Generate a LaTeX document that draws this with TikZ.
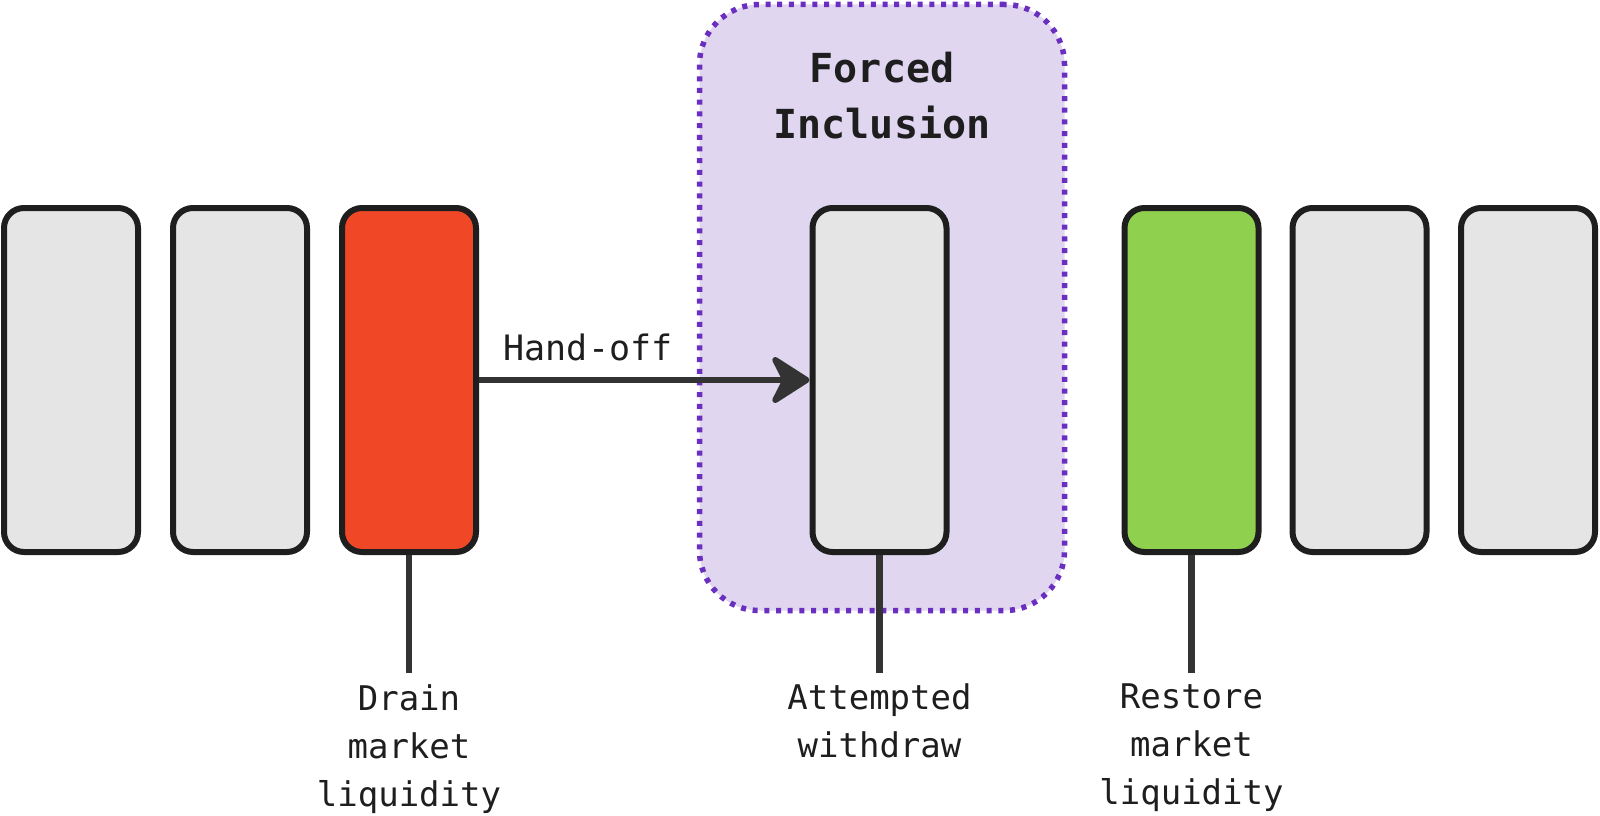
\documentclass[tikz,border=0pt]{standalone}
\usepackage{fontspec}
\setmonofont{DejaVu Sans Mono}
\usetikzlibrary{arrows.meta}
\definecolor{boxgray}{HTML}{E5E5E5}
\definecolor{boxline}{HTML}{1E1E1E}
\definecolor{redfill}{HTML}{F04826}
\definecolor{greenfill}{HTML}{8FD14F}
\definecolor{grpfill}{HTML}{E0D6F0}
\definecolor{grpline}{HTML}{6A2FC0}
\definecolor{conn}{HTML}{333333}
\definecolor{txt}{HTML}{1E1E1E}
\tikzset{
  blockbox/.style={draw=boxline, fill=boxgray, line width=6pt, minimum width=134pt,
    minimum height=344pt, rounded corners=20pt, inner sep=0pt},
  grpbox/.style={draw=grpline, fill=grpfill, line width=5.5pt, dash pattern=on 5pt off 6.7pt,
    rounded corners=60pt, minimum width=365pt, minimum height=606pt, inner sep=0pt},
  conline/.style={draw=conn, line width=6.5pt},
  hoarrow/.style={draw=conn, line width=6pt, line cap=butt,
    -{Stealth[length=44pt 0, width=56pt 0, inset=14pt 0, round]}},
  lbl/.style={text=txt, font=\ttfamily\fontsize{34}{48}\selectfont, align=center, inner sep=0pt, anchor=north},
  ttl/.style={text=txt, font=\ttfamily\bfseries\fontsize{40}{56}\selectfont, align=center, inner sep=0pt, anchor=north},
}
\begin{document}
\begin{tikzpicture}[x=1pt,y=-1pt]
\useasboundingbox (0,0) rectangle (1600,816);
\node[grpbox] (grp) at (882,307.5) {};
\node[ttl] (title) at (882,52) {Forced\\Inclusion};
\node[blockbox] (b1) at (71,380) {};
\node[blockbox] (b2) at (240,380) {};
\node[blockbox, fill=redfill] (b3) at (409,380) {};
\node[blockbox] (mid) at (879.5,380) {};
\node[blockbox, fill=greenfill] (b5) at (1191.5,380) {};
\node[blockbox] (b6) at (1359.5,380) {};
\node[blockbox] (b7) at (1528,380) {};
\draw[hoarrow] (b3.east) -- node[pos=0.33, above=16pt, inner sep=0pt, text=txt, font=\ttfamily\fontsize{35}{42}\selectfont] (handoff) {Hand-off} (mid.west);
\node[lbl] (l3) at (409,684) {Drain\\market\\liquidity};
\node[lbl] (lmid) at (879.5,683) {Attempted\\withdraw};
\node[lbl] (l5) at (1191.5,684) {Restore\\market\\liquidity};
\draw[conline, shorten >=11pt] (b3.south) -- (l3.north);
\draw[conline, shorten >=10pt] (mid.south) -- (lmid.north);
\draw[conline, shorten >=11pt] (b5.south) -- (l5.north);
\end{tikzpicture}
\end{document}
